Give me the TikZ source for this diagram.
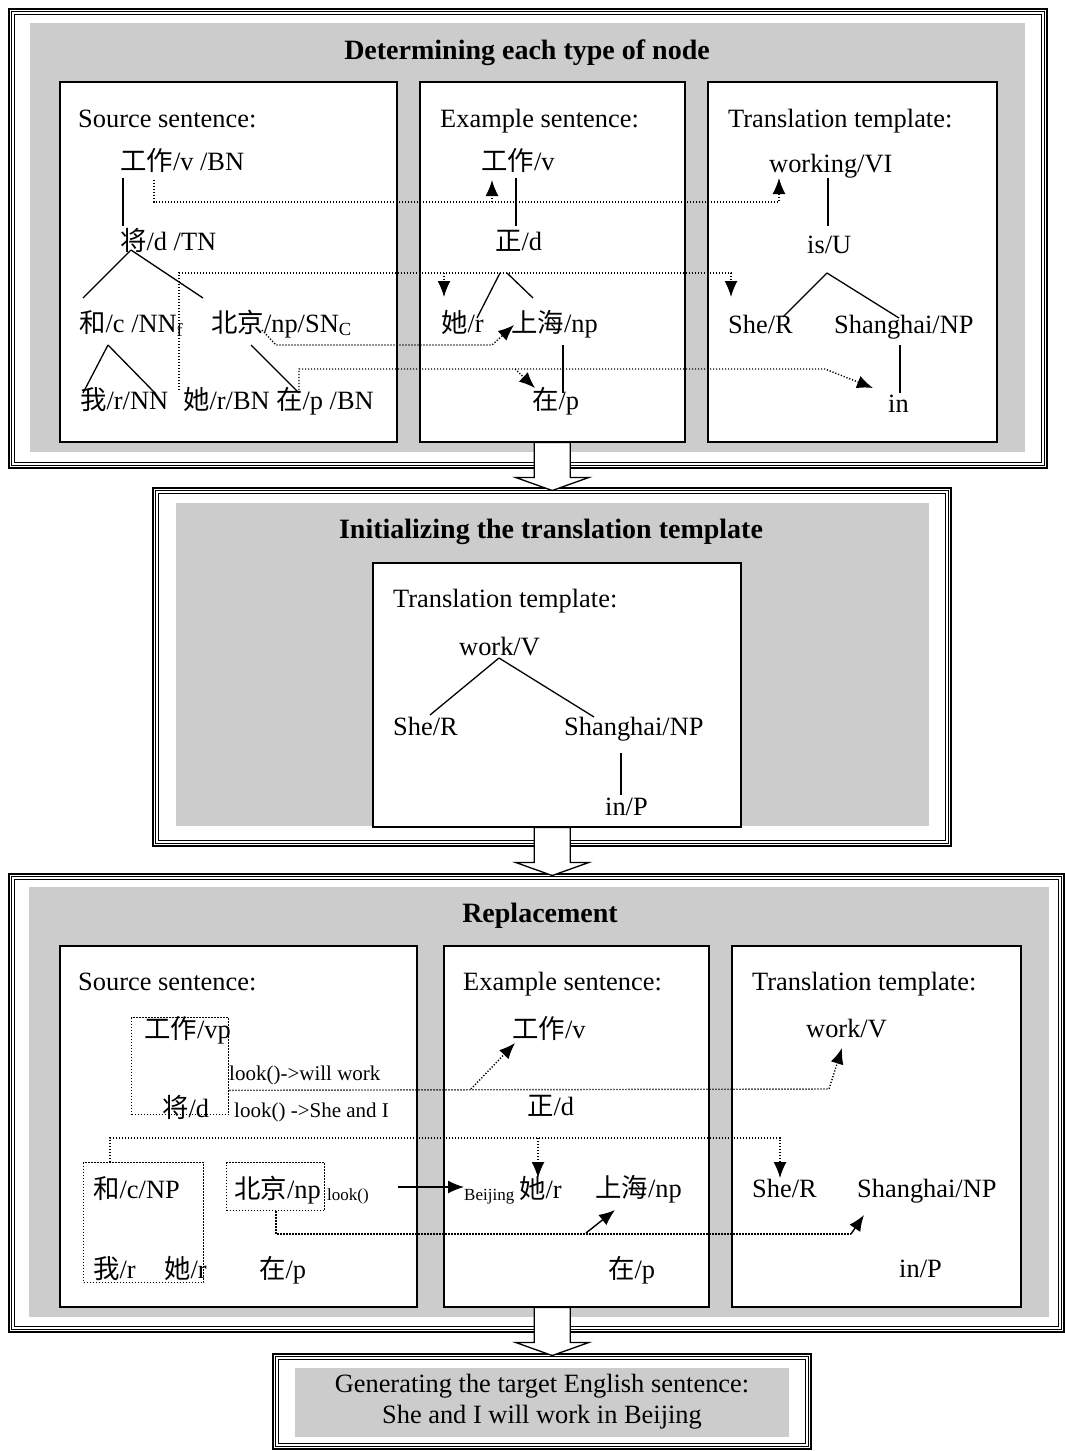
\documentclass[tikz,border=0pt]{standalone}
\usepackage{fontspec}
\setmainfont{Liberation Serif}
\newfontfamily\cjk{Noto Sans CJK SC}
\usetikzlibrary{calc,arrows.meta}

\definecolor{panelgray}{HTML}{CCCCCC}
\newcommand{\zh}[1]{{\cjk #1}}

\tikzstyle{panel} = [draw=black, line width=2pt, anchor=north west, inner sep=0pt]
\tikzstyle{frameline} = [draw=black, line width=0.9pt]
\tikzstyle{greyfill} = [fill=panelgray, anchor=north west, inner sep=0pt]
\tikzstyle{card} = [draw=black, fill=white, line width=1.5pt, anchor=north west, inner sep=0pt]
\tikzstyle{groupbox} = [draw=black, line width=1.3pt, dash pattern=on 1.2pt off 1.8pt, anchor=north west, inner sep=0pt]
\tikzstyle{word} = [anchor=base west, inner sep=0pt, font=\fontsize{26.4}{30}\selectfont]
\tikzstyle{heading} = [anchor=base, inner sep=0pt, font=\fontsize{28}{32}\selectfont\bfseries]
\tikzstyle{note} = [anchor=base west, inner sep=0pt, font=\fontsize{21}{24}\selectfont]
\tikzstyle{tag} = [anchor=base west, inner sep=0pt, font=\fontsize{17}{20}\selectfont]
\tikzstyle{branch} = [line width=1.3pt]
\tikzstyle{link} = [line width=1.4pt, dash pattern=on 1.2pt off 1.8pt]
\tikzstyle{arrow} = [line width=1.4pt, ->, >={Latex[length=16pt,width=13pt]}]
\tikzstyle{dotarrow} = [link, ->, >={Latex[length=16pt,width=13pt]}]
\tikzstyle{blockarrow} = [draw=black, fill=white, line width=1.3pt, line join=miter]

% the two thin lines inside a panel frame
\newcommand{\innerlines}[1]{%
  \draw[frameline] ($(#1.north west)+(3.5,3.5)$) rectangle ($(#1.south east)+(-3.5,-3.5)$);
  \draw[frameline, line width=1.2pt] ($(#1.north west)+(6.5,6.5)$) rectangle ($(#1.south east)+(-6.5,-6.5)$);}

% hollow arrow from one panel down to the next
\newcommand{\downblock}[1]{%
  \draw[blockarrow] ($(#1)+(-18,0)$) -- ++(0,35) -- ++(-18.5,0) -- ++(36.5,13) -- ++(36.5,-13) -- ++(-18.5,0) -- ++(0,-35) -- cycle;}

\begin{document}
\begin{tikzpicture}[x=1pt, y=-1pt]
\useasboundingbox (0,0) rectangle (1065,1451);

% Define panels
\node (pan1) [panel, minimum width=1038pt, minimum height=459pt] at (8,8) {};
\innerlines{pan1}
\node (grey1) [greyfill, minimum width=995pt, minimum height=429pt] at (30,23) {};
\node (srcbox1) [card, minimum width=337pt, minimum height=360pt] at (59,81) {};
\node (exbox1) [card, minimum width=265pt, minimum height=360pt] at (419,81) {};
\node (tpbox1) [card, minimum width=289pt, minimum height=360pt] at (707,81) {};

\node (pan2) [panel, minimum width=798pt, minimum height=358pt] at (152,487) {};
\innerlines{pan2}
\node (grey2) [greyfill, minimum width=753pt, minimum height=323pt] at (176,503) {};
\node (tpbox2) [card, minimum width=368pt, minimum height=264pt] at (372,562) {};

\node (pan3) [panel, minimum width=1055pt, minimum height=458pt] at (8,873) {};
\innerlines{pan3}
\node (grey3) [greyfill, minimum width=1020pt, minimum height=430pt] at (29,887) {};
\node (srcbox3) [card, minimum width=357pt, minimum height=361pt] at (59,945) {};
\node (exbox3) [card, minimum width=265pt, minimum height=361pt] at (443,945) {};
\node (tpbox3) [card, minimum width=289pt, minimum height=361pt] at (731,945) {};

\node (pan4) [panel, minimum width=538pt, minimum height=95pt] at (272,1353) {};
\innerlines{pan4}
\node (grey4) [greyfill, minimum width=494pt, minimum height=69pt] at (295,1368) {};

% Titles
\node (head1) [heading] at (527,59) {Determining each type of node};
\node (head2) [heading] at (551,538) {Initializing the translation template};
\node (head3) [heading] at (540,922) {Replacement};

% Step 1: nodes
\node (lab1s) [word] at (78,127) {Source sentence:};
\node (lab1e) [word] at (440,127) {Example sentence:};
\node (lab1t) [word] at (728,127) {Translation template:};

\node (sA) [word] at (120,170) {\zh{工作}/v /BN};
\node (sB) [word] at (120,250) {\zh{将}/d /TN};
\node (sC) [word] at (79,332) {\zh{和}/c /NN\textsubscript{f}};
\node (sD) [word] at (211,332) {\zh{北京}/np/SN\textsubscript{C}};
\node (sE) [word] at (80,409) {\zh{我}/r/NN};
\node (sF) [word] at (183,409) {\zh{她}/r/BN};
\node (sG) [word] at (276,409) {\zh{在}/p /BN};

\node (eA) [word] at (481,170) {\zh{工作}/v};
\node (eB) [word] at (495,250) {\zh{正}/d};
\node (eC) [word] at (441,332) {\zh{她}/r};
\node (eD) [word] at (511,332) {\zh{上海}/np};
\node (eE) [word] at (532,409) {\zh{在}/p};

\node (tA) [word] at (769,172) {working/VI};
\node (tB) [word] at (807,253) {is/U};
\node (tC) [word] at (728,333) {She/R};
\node (tD) [word] at (834,333) {Shanghai/NP};
\node (tE) [word] at (888,412) {in};

% Step 1: tree lines
\draw [branch] ($(sA.base west)+(3,8)$) -- ($(sB.base west)+(3,-24)$);
\draw [branch] ($(sB.base west)+(11,0)$) -- ($(sC.base west)+(4,-34)$);
\draw [branch] ($(sB.base west)+(11,0)$) -- ($(sD.base west)+(-8,-34)$);
\draw [branch] ($(sC.base west)+(29,13)$) -- ($(sE.base west)+(3,-16)$);
\draw [branch] ($(sC.base west)+(29,13)$) -- ($(sF.base west)+(-28,-16)$);
\draw [branch] ($(sD.base west)+(40,13)$) -- ($(sG.base west)+(23,-16)$);

\draw [branch] ($(eA.base west)+(35,8)$) -- ($(eB.base west)+(21,-24)$);
\draw [branch] ($(eB.base west)+(5,23)$) -- ($(eC.base west)+(36,-14)$);
\draw [branch] ($(eB.base west)+(12,23)$) -- ($(eD.base west)+(22,-34)$);
\draw [branch] ($(eD.base west)+(52,13)$) -- ($(eE.base west)+(31,-16)$);

\draw [branch] ($(tA.base west)+(59,6)$) -- ($(tB.base west)+(21,-27)$);
\draw [branch] ($(tB.base west)+(20,20)$) -- ($(tC.base west)+(55,-16)$);
\draw [branch] ($(tB.base west)+(20,20)$) -- ($(tD.base west)+(65,-15)$);
\draw [branch] ($(tD.base west)+(66,12)$) -- ($(tE.base west)+(12,-19)$);

% Step 1: node matches
\draw [dotarrow] ($(sA.base west)+(34,10)$) |- ($(tA.base west)+(10,30)$) -- ($(tA.base west)+(10,6)$);
\draw [dotarrow] ($(eA.base west)+(11,32)$) -- ($(eA.base west)+(11,10)$);
\draw [dotarrow] ($(sF.base west)+(-4,-19)$) |- ($(tC.base west)+(3,-60)$) -- ($(tC.base west)+(3,-36)$);
\draw [dotarrow] ($(eC.base west)+(3,-59)$) -- ($(eC.base west)+(3,-35)$);
\draw [dotarrow] ($(sD.base west)+(51,-2)$) -- ($(sD.base west)+(65,13)$) -- ($(eD.base west)+(-19,13)$) -- ($(eD.base west)+(3,-7)$);
\draw [dotarrow] ($(sG.base west)+(23,-19)$) |- ($(tE.base west)+(-63,-43)$) -- ($(tE.base west)+(-15,-24)$);
\draw [dotarrow] ($(eE.base west)+(-17,-40)$) -- ($(eE.base west)+(3,-21)$);

% Step 2
\node (lab2t) [word] at (393,607) {Translation template:};
\node (wA) [word] at (459,655) {work/V};
\node (wB) [word] at (393,735) {She/R};
\node (wC) [word] at (564,735) {Shanghai/NP};
\node (wD) [word] at (605,815) {in/P};
\draw [branch] ($(wA.base west)+(40,3)$) -- ($(wB.base west)+(37,-20)$);
\draw [branch] ($(wA.base west)+(40,3)$) -- ($(wC.base west)+(30,-18)$);
\draw [branch] ($(wC.base west)+(57,18)$) -- ($(wD.base west)+(16,-20)$);

% Step 3: nodes
\node (lab3s) [word] at (78,990) {Source sentence:};
\node (lab3e) [word] at (463,990) {Example sentence:};
\node (lab3t) [word] at (752,990) {Translation template:};

\node (grp1) [groupbox, minimum width=97pt, minimum height=97pt] at (131,1017) {};
\node (grp2) [groupbox, minimum width=120pt, minimum height=120pt] at (83,1162) {};
\node (grp3) [groupbox, minimum width=98pt, minimum height=48pt] at (226,1162) {};

\node (rA) [word] at (144,1038) {\zh{工作}/vp};
\node (rB) [word] at (162,1117) {\zh{将}/d};
\node (lookA) [note] at (229,1080) {look()->will work};
\node (lookB) [note] at (234,1117) {look() ->She and I};
\node (rC) [word] at (93,1198) {\zh{和}/c/NP};
\node (rD) [word] at (93,1278) {\zh{我}/r};
\node (rE) [word] at (164,1278) {\zh{她}/r};
\node (rF) [word] at (234,1198) {\zh{北京}/np};
\node (lookC) [tag] at (327,1200) {look()};
\node (rG) [word] at (259,1278) {\zh{在}/p};

\node (xA) [word] at (512,1038) {\zh{工作}/v};
\node (xB) [word] at (527,1115) {\zh{正}/d};
\node (bj) [tag] at (464,1200) {Beijing};
\node (xC) [word] at (519,1198) {\zh{她}/r};
\node (xD) [word] at (595,1197) {\zh{上海}/np};
\node (xE) [word] at (608,1278) {\zh{在}/p};

\node (yA) [word] at (806,1037) {work/V};
\node (yB) [word] at (752,1197) {She/R};
\node (yC) [word] at (857,1197) {Shanghai/NP};
\node (yD) [word] at (899,1277) {in/P};

% Step 3: replacements
\draw [dotarrow] ($(grp1.south east)+(0,-25)$) -- ($(yA.base west)+(23,52)$) -- ($(yA.base west)+(36,11)$);
\draw [dotarrow] ($(xA.base west)+(-41,51)$) -- ($(xA.base west)+(3,5)$);
\draw [dotarrow] ($(grp2.north west)+(27,0)$) |- ($(yB.base west)+(28,-59)$) -- ($(yB.base west)+(28,-19)$);
\draw [dotarrow] ($(xC.base west)+(19,-60)$) -- ($(xC.base west)+(19,-20)$);
\draw [arrow] ($(lookC.base east)+(29,-13)$) -- ($(bj.base west)+(0,-13)$);
\draw [link] ($(grp3.south west)+(50,0)$) |- ($(yC.base west)+(-6,37)$);
\draw [arrow] ($(yC.base west)+(-6,37)$) -- ($(yC.base west)+(7,18)$);
\draw [arrow] ($(xD.base west)+(-9,36)$) -- ($(xD.base west)+(20,13)$);

% Step 4
\node (result) [align=center, inner sep=0pt, font=\fontsize{26.4}{31}\selectfont] at (542,1402) {Generating the target English sentence:\\She and I will work in Beijing};

% Draw arrows
\downblock{exbox1.south}
\coordinate (go2) at (tpbox2.south -| exbox1.south);
\downblock{go2}
\coordinate (go3) at (exbox3.south -| exbox1.south);
\downblock{go3}

\end{tikzpicture}
\end{document}
